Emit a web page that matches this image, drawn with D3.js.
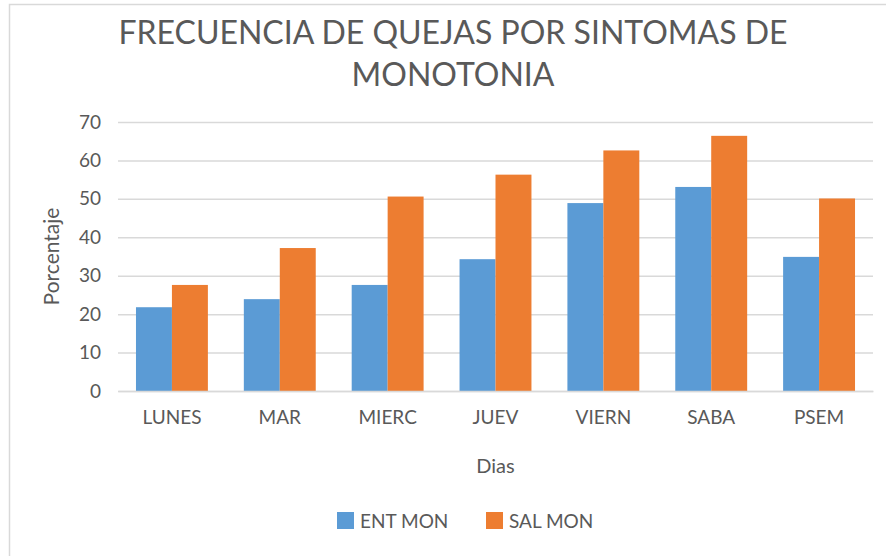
<!DOCTYPE html>
<html>
<head>
<meta charset="utf-8">
<script src="https://cdn.jsdelivr.net/npm/d3@7"></script>
<style>
  html, body { margin: 0; padding: 0; background: #fff; }
  svg, svg text { font-family: Lato, "Open Sans", sans-serif; }
  svg { display: block; }
</style>
</head>
<body>
<div id="chart"></div>
<script>
const categories = ["LUNES", "MAR", "MIERC", "JUEV", "VIERN", "SABA", "PSEM"];
const entMon = [21.8, 23.9, 27.6, 34.3, 48.9, 53.1, 34.9];
const salMon = [27.6, 37.2, 50.6, 56.3, 62.6, 66.4, 50.1];
const yTicks = [0, 10, 20, 30, 40, 50, 60, 70];

const series = [
  { key: "ENT MON", color: "#5b9bd5", values: entMon },
  { key: "SAL MON", color: "#ed7d31", values: salMon },
];

const width = 886;
const height = 556;
const margin = { top: 122, right: 13, bottom: 165, left: 118 };
const innerWidth = width - margin.left - margin.right;
const innerHeight = height - margin.top - margin.bottom;
const textColor = "#595959";

const svg = d3
  .select("#chart")
  .append("svg")
  .attr("width", width)
  .attr("height", height);

// outer frame: only the top and left edges show
svg
  .append("path")
  .attr("d", `M9.5,${height}V4.5H${width}`)
  .attr("fill", "none")
  .attr("stroke", "#d9d9d9")
  .attr("stroke-width", 1.5);

const title = svg
  .append("text")
  .attr("text-anchor", "middle")
  .attr("fill", textColor)
  .style("font-size", "32px");
title.append("tspan").attr("x", 453).attr("y", 44).text("FRECUENCIA DE QUEJAS POR SINTOMAS DE");
title.append("tspan").attr("x", 453).attr("y", 86).text("MONOTONIA");

const chart = svg
  .append("g")
  .attr("transform", `translate(${margin.left},${margin.top})`);

const xScale = d3.scaleBand().domain(categories).range([0, innerWidth]);

const xInner = d3
  .scaleBand()
  .domain(series.map((s) => s.key))
  .range([0, xScale.bandwidth()])
  .paddingOuter(0.5);

const yScale = d3.scaleLinear().domain([0, 70]).range([innerHeight, 0]);

chart
  .append("g")
  .call(d3.axisLeft(yScale).tickValues(yTicks).tickSize(-innerWidth).tickFormat(d3.format("d")))
  .call((axis) => axis.attr("font-family", null).attr("font-size", null))
  .call((axis) => axis.select(".domain").remove())
  .call((axis) =>
    axis.selectAll(".tick line").attr("stroke", "#d9d9d9").attr("stroke-width", 1.5),
  )
  .call((axis) =>
    axis
      .selectAll(".tick text")
      .attr("x", -17)
      .attr("fill", textColor)
      .style("font-size", "19px"),
  );

const groups = chart
  .selectAll(".cat")
  .data(categories)
  .join("g")
  .attr("class", "cat")
  .attr("transform", (d) => `translate(${xScale(d)},0)`);

groups
  .selectAll("rect")
  .data((d, i) => series.map((s) => ({ key: s.key, color: s.color, value: s.values[i] })))
  .join("rect")
  .attr("x", (d) => xInner(d.key))
  .attr("width", xInner.bandwidth())
  .attr("y", (d) => yScale(d.value))
  .attr("height", (d) => innerHeight - yScale(d.value))
  .attr("fill", (d) => d.color);

chart
  .append("g")
  .attr("transform", `translate(0,${innerHeight})`)
  .call(d3.axisBottom(xScale).tickSize(0).tickPadding(20))
  .call((axis) => axis.attr("font-family", null).attr("font-size", null))
  .call((axis) => axis.select(".domain").attr("stroke", "#d9d9d9").attr("stroke-width", 1.5))
  .call((axis) =>
    axis.selectAll(".tick text").attr("fill", textColor).style("font-size", "19px"),
  );

svg
  .append("text")
  .attr("x", margin.left + innerWidth / 2)
  .attr("y", 473)
  .attr("text-anchor", "middle")
  .attr("fill", textColor)
  .style("font-size", "20px")
  .text("Dias");

svg
  .append("text")
  .attr("transform", `translate(59,${margin.top + innerHeight / 2}) rotate(-90)`)
  .attr("text-anchor", "middle")
  .attr("fill", textColor)
  .style("font-size", "21px")
  .text("Porcentaje");

const legend = svg.append("g").attr("transform", "translate(337,512)");
const legendX = [0, 149];
series.forEach((s, i) => {
  const item = legend.append("g").attr("transform", `translate(${legendX[i]},0)`);
  item.append("rect").attr("width", 17).attr("height", 17).attr("fill", s.color);
  item
    .append("text")
    .attr("x", 23)
    .attr("y", 16)
    .attr("fill", textColor)
    .style("font-size", "19px")
    .text(s.key);
});
</script>
</body>
</html>
